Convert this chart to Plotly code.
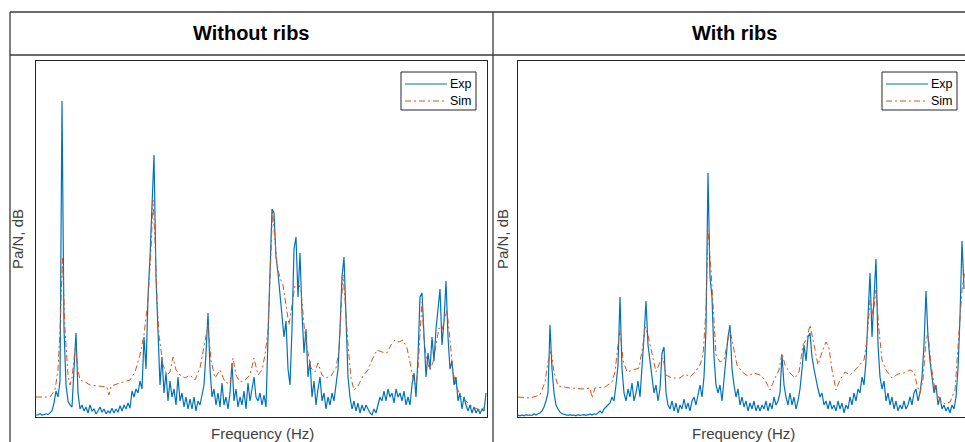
import numpy as np
import plotly.graph_objects as go

# ---- Measured frequency response, panel without ribs ----
# Exp: uniform grid, 4 Hz step starting at 0 Hz
exp_plain_db = [
    0.5, 0.5, 0.8, 0.5, 0.6, 0.8, 0.6, 1.0, 1.5, 3.5, 6.5, 5.0, 9, 79, 22, 8, 4, 3, 2.5, 12,
    21, 6, 2, 3, 1.5, 2.5, 1.0, 3, 1.5, 2, 0.8, 1.5, 2.5, 1.2, 2, 0.8, 1.5, 1.0, 2.2, 1.0,
    2, 1.2, 2.8, 1.5, 3, 2, 3.5, 2.2, 6.5, 5, 7, 6, 9, 7, 20, 12, 30, 40, 55, 65.5,
    35, 21, 8, 15, 6, 11, 4, 9, 5, 7, 3, 10, 4, 6, 2.5, 5, 2, 4.5, 2, 5,
    1.5, 4, 3, 5.5, 8, 16, 26, 12, 5, 7, 3, 6, 2.5, 8.5, 3, 5, 2, 6, 13.5, 4,
    7, 2.5, 5, 3, 6.5, 2, 8.5, 4, 7, 10, 5, 4, 6, 3, 5.5, 2.5, 20, 35, 52, 51,
    40, 36, 30, 26, 20, 24, 12, 8, 22, 42, 45, 30, 41, 26, 16, 22, 10, 14, 5, 9,
    3, 7, 10, 4, 6, 2, 5, 3, 6, 4, 8, 12, 22, 35, 40, 25, 10, 5, 2, 4,
    1.5, 3.5, 1, 3, 1.5, 3, 2, 1.0, 0.5, 2, 1, 3, 5, 4, 6.5, 4, 7, 5, 6, 3.5,
    7, 5, 6, 4, 6.5, 3, 5, 3, 8, 11, 5, 15, 30, 31, 20, 10, 16, 12, 20, 14,
    22, 28, 32, 18, 24, 34, 20, 12, 14, 8, 10, 4, 6, 2, 5, 3, 1.5, 3, 1, 2.5,
    1, 2, 0.8, 2, 1.5, 6,
]
# Sim: frequencies (Hz) and levels (dB)
sim_plain_hz = [
    0, 28, 38, 44, 48, 53, 58, 64, 68, 72, 79, 84, 88, 98, 108, 128, 142, 146, 150, 168,
    188, 198, 208, 216, 224, 230, 234, 238, 242, 246, 254, 262, 268, 274, 280, 288, 298, 308, 318, 328,
    336, 344, 350, 358, 368, 378, 388, 394, 400, 408, 418, 428, 436, 444, 452, 458, 464, 468, 473, 478,
    482, 488, 494, 500, 506, 512, 518, 524, 530, 536, 542, 550, 558, 564, 572, 580, 590, 600, 606, 610,
    614, 618, 624, 630, 636, 644, 654, 664, 672, 682, 692, 702, 710, 718, 726, 734, 742, 748, 754, 760,
    764, 768, 772, 776, 782, 788, 794, 800, 806, 812, 818, 822, 828, 834, 840, 848, 858, 868, 878, 888,
    902,
]
sim_plain_db = [
    5, 5, 6.75, 11.75, 21.75, 39.75, 21.75, 10.5, 8, 9.75, 18, 11.75, 9.25, 8.75, 8, 7.75, 7.5, 5.5, 7.75, 8.5,
    9.25, 11.25, 15.5, 20.5, 29.25, 41.75, 54.25, 44.25, 29.25, 20.5, 13, 10.5, 11.25, 15, 11.75, 10.5, 9.75, 10.5, 9.25, 12.25,
    18, 23, 14.25, 9.75, 11.75, 8.75, 8.25, 14.75, 10.5, 8.75, 9.25, 10.5, 14.75, 10.5, 11.75, 15.5, 21.75, 36.75, 51.25, 44.25,
    38, 34.75, 33, 28, 23, 28, 33, 33.5, 31.75, 23, 17.25, 12.25, 11.25, 13.5, 10.5, 9.75, 10.25, 12.25, 16.75, 26.75,
    35.5, 29.25, 18, 9.75, 6.75, 7.75, 10.25, 11.75, 14.25, 16.75, 16.25, 16, 18, 19.25, 18.75, 19.25, 17.25, 13.75, 9.75, 8,
    11.75, 20.75, 28.75, 19.25, 13.75, 11.75, 13.75, 18, 22.25, 21.75, 24.75, 26.75, 19.25, 11.25, 8, 5.5, 4.25, 3, 2.25, 1.75,
    2.75,
]

# ---- Measured frequency response, panel with ribs ----
exp_ribs_db = [
    0.5, 0.3, 0.5, 0.3, 0.6, 0.4, 0.5, 0.4, 0.8, 0.5, 0.8, 1.0, 1.5, 2.5, 4, 6, 23, 12, 6, 3,
    2, 1.2, 0.8, 0.6, 0.5, 0.4, 0.6, 0.4, 0.5, 0.3, 0.6, 0.4, 0.5, 0.6, 0.4, 0.5, 0.7, 0.5, 0.8, 0.6,
    1.0, 1.5, 1.0, 2.0, 2.5, 3, 3.5, 5, 4, 8, 13, 30, 12, 6, 4, 7, 5, 8.5, 4, 6,
    9, 5, 12, 20, 29, 18, 14, 10, 6, 8, 4, 7, 16, 17.5, 6, 3, 2, 4, 1.5, 3.5,
    1, 3, 2, 4.5, 2, 3.5, 1.5, 4, 5, 3, 6, 8, 5, 10, 22, 61, 35, 30, 15, 8,
    6, 8, 4, 10, 16, 20, 23, 12, 8, 5, 7, 3, 5, 2.5, 4, 1.5, 3.5, 2, 4, 1.5,
    3, 1.5, 3, 2, 4, 1.5, 3.5, 2, 5, 3, 4, 6, 15.5, 8, 5, 3, 6, 3, 5, 2,
    4, 7, 12, 18, 14, 20, 21, 15, 12, 9, 7, 5, 6, 3, 4, 2, 4, 2, 3, 1.5,
    4, 2, 3.5, 1, 3, 2, 5, 3, 6, 4, 7, 6, 10, 8, 14, 25, 36, 20, 30, 39.5,
    18, 10, 7, 9, 4, 6, 3, 5, 2, 4, 1.5, 3, 2, 4, 2, 3, 5, 3, 6, 7,
    4, 6, 10, 18, 31.5, 20, 14, 10, 6, 8, 3, 5, 2, 3, 1.5, 2.5, 1, 3, 2, 5,
    12, 25, 44, 32,
]
sim_ribs_hz = [
    0, 24, 44, 54, 60, 66, 72, 80, 104, 134, 144, 148, 154, 174, 188, 194, 200, 204, 210, 218,
    230, 242, 250, 254, 260, 268, 276, 284, 290, 296, 308, 324, 334, 344, 354, 364, 370, 376, 380, 386,
    390, 396, 404, 412, 418, 424, 430, 438, 448, 460, 472, 484, 494, 504, 514, 522, 528, 534, 544, 554,
    562, 570, 578, 584, 592, 600, 608, 616, 622, 628, 636, 644, 654, 664, 674, 684, 692, 698, 704, 710,
    716, 722, 728, 736, 748, 760, 772, 784, 792, 798, 804, 810, 816, 820, 826, 834, 844, 854, 864, 874,
    880, 888, 894,
]
sim_ribs_db = [
    5, 4.75, 5.5, 8.75, 13.75, 16.75, 11.25, 7.75, 7.25, 7, 7.25, 4.75, 7.25, 7.5, 8.75, 11.25, 18, 21.75, 14.25, 11.25,
    11.75, 12.25, 18, 22.5, 20.5, 15.5, 11.25, 13.75, 14.75, 10.5, 9.75, 9.75, 10.75, 10, 11.25, 13, 15.5, 26.75, 46.75, 36.75,
    29.25, 15.5, 13.75, 14.25, 18, 21.75, 18, 13, 11.25, 10.25, 11, 10.5, 9.25, 6.75, 9.75, 11.75, 16, 13, 11, 9.75,
    11.25, 18, 19.75, 23, 18, 13, 16.25, 18.75, 17.25, 11.75, 6.75, 9.25, 11.25, 10.5, 11.75, 13, 14.25, 19.25, 29.25, 25.5,
    31.75, 21.75, 14.25, 11.75, 9.75, 10.75, 11, 11.75, 11.25, 8, 6, 9.25, 19.25, 21, 13, 6.75, 4.25, 3.25, 3.75, 6.75,
    18, 31.75, 36.75,
]

series_names = ["Exp", "Sim"]

EXP_STEP_HZ = 4
exp_plain_hz = EXP_STEP_HZ * np.arange(len(exp_plain_db))
exp_ribs_hz = EXP_STEP_HZ * np.arange(len(exp_ribs_db))

W, H = 965, 442
BLUE = "#0072BD"
ORANGE = "#D95319"
AX = "#262626"
LABEL = "#404040"
FONT = "Liberation Sans, Arial, sans-serif"
SIM_DASH = "6px,3px,2px,3px"
EXP_LINE = dict(color=BLUE, width=1.2)
SIM_LINE = dict(color=ORANGE, width=1, dash=SIM_DASH)


def px(x):
    return x / W


def py(y):
    return 1 - y / H


fig = go.Figure()
for xa, ya, exp_hz, exp_db, sim_hz, sim_db in [
    ("x", "y", exp_plain_hz, exp_plain_db, sim_plain_hz, sim_plain_db),
    ("x2", "y2", exp_ribs_hz, exp_ribs_db, sim_ribs_hz, sim_ribs_db),
]:
    fig.add_trace(go.Scatter(x=exp_hz, y=exp_db, mode="lines", name=series_names[0],
                             line=EXP_LINE, xaxis=xa, yaxis=ya, showlegend=False))
    fig.add_trace(go.Scatter(x=sim_hz, y=sim_db, mode="lines", name=series_names[1],
                             line=SIM_LINE, xaxis=xa, yaxis=ya, showlegend=False))

PLOT_TOP, PLOT_BOTTOM = 61, 417
L_LEFT, L_RIGHT = 36, 487
R_LEFT = 518
HZ_PER_PX = 2.0
Y_RANGE = [0, (PLOT_BOTTOM - PLOT_TOP) / 4.0]

common_x = dict(showticklabels=False, ticks="", showgrid=False, zeroline=False,
                showline=True, linecolor=AX, linewidth=1, mirror=True)
common_y = dict(showticklabels=False, ticks="", showgrid=False, zeroline=False,
                showline=True, linecolor=AX, linewidth=1, range=Y_RANGE,
                domain=[py(PLOT_BOTTOM), py(PLOT_TOP)])

fig.update_layout(
    width=W, height=H,
    margin=dict(l=0, r=0, t=0, b=0),
    paper_bgcolor="white", plot_bgcolor="white",
    showlegend=False,
    xaxis=dict(common_x, domain=[px(L_LEFT), px(L_RIGHT)],
               range=[0, (L_RIGHT - L_LEFT) * HZ_PER_PX]),
    yaxis=dict(common_y, mirror=True),
    xaxis2=dict(common_x, domain=[px(R_LEFT), 1.0],
                range=[0, (W - R_LEFT) * HZ_PER_PX]),
    yaxis2=dict(common_y, anchor="x2", mirror=False),
)

# Table frame with column headers
frame_line = dict(color="#3a3a3a", width=1.3)
shapes = [
    dict(type="line", x0=px(10), x1=1.0, y0=py(12), y1=py(12), line=frame_line),
    dict(type="line", x0=px(10), x1=1.0, y0=py(55), y1=py(55), line=frame_line),
    dict(type="line", x0=px(10), x1=px(10), y0=py(12), y1=0, line=frame_line),
    dict(type="line", x0=px(493), x1=px(493), y0=py(12), y1=0, line=frame_line),
]

annotations = [
    dict(text="<b>Without ribs</b>", x=px(251), y=py(33), font=dict(size=20, color="black")),
    dict(text="<b>With ribs</b>", x=px(734), y=py(33), font=dict(size=20, color="black")),
    dict(text="Frequency (Hz)", x=px(262), y=py(433), font=dict(size=15, color=LABEL)),
    dict(text="Frequency (Hz)", x=px(743), y=py(433), font=dict(size=15, color=LABEL)),
    dict(text="Pa/N, dB", x=px(18), y=py(239), textangle=-90, font=dict(size=15, color=LABEL)),
    dict(text="Pa/N, dB", x=px(503), y=py(239), textangle=-90, font=dict(size=15, color=LABEL)),
]
for a in annotations:
    a.update(xanchor="center", yanchor="middle")

# Legend boxes in the top-right corner of each panel
for box_left in (401, 882):
    box_right = box_left + 75
    shapes.append(dict(type="rect", x0=px(box_left), x1=px(box_right), y0=py(110), y1=py(72),
                       line=dict(color=AX, width=1), fillcolor="white"))
    for row_y, name, style in [(84, series_names[0], EXP_LINE), (101, series_names[1], SIM_LINE)]:
        shapes.append(dict(type="line", x0=px(box_left + 4), x1=px(box_left + 46),
                           y0=py(row_y), y1=py(row_y), line=style))
        annotations.append(dict(text=name, x=px(box_right - 2), y=py(row_y), xanchor="right",
                                yanchor="middle", font=dict(size=12.5, color="black")))

for s in shapes:
    s.update(xref="paper", yref="paper", layer="above")
for a in annotations:
    a.update(xref="paper", yref="paper", showarrow=False)
    a["font"]["family"] = FONT

fig.update_layout(shapes=shapes, annotations=annotations)

fig.write_html("out.html")
